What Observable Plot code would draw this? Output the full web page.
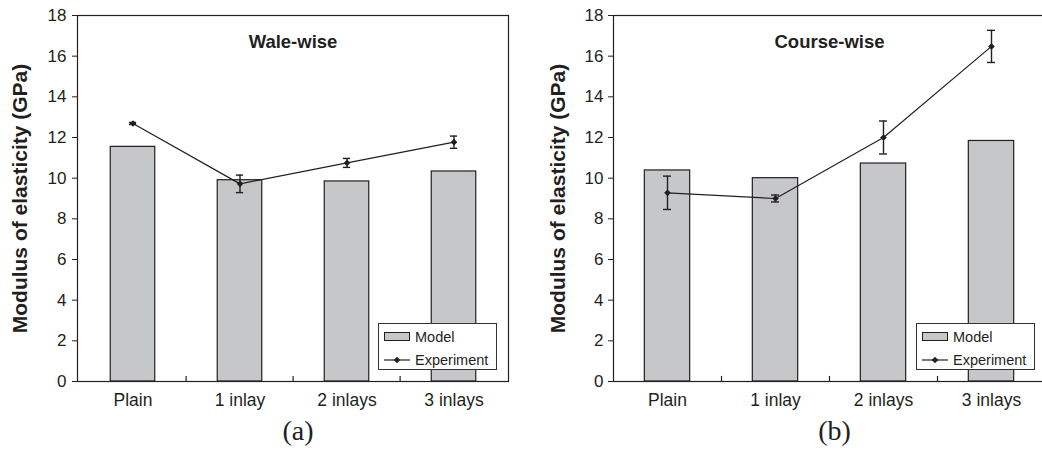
<!DOCTYPE html>
<html>
<head>
<meta charset="utf-8">
<script src="https://cdn.jsdelivr.net/npm/d3@7"></script>
<script src="https://cdn.jsdelivr.net/npm/@observablehq/plot@0.6"></script>
<style>
  html, body { margin: 0; padding: 0; background: #fff; overflow: hidden; }
  #wrap { position: relative; width: 1042px; height: 455px; overflow: hidden; display: flex; }
  .panel { position: relative; flex: none; }
  .legend { position: absolute; background: #fff; border: 1px solid #333; box-sizing: border-box;
            font-family: "Liberation Sans", Arial, sans-serif; font-size: 14.5px; color: #231f20; }
  .legend .row { position: absolute; left: 5px; display: flex; align-items: center; height: 18px; }
  .legend .row span { margin-left: 5px; }
</style>
</head>
<body>
<div id="wrap"></div>
<script>
// ---- data ----
const categories = ["Plain", "1 inlay", "2 inlays", "3 inlays"];
const yTicks = [0, 2, 4, 6, 8, 10, 12, 14, 16, 18];

const waleModel = [11.54, 9.90, 9.84, 10.33];
const waleExp   = [12.69, 9.72, 10.75, 11.77];
const waleErr   = [0.05, 0.43, 0.22, 0.30];

const courseModel = [10.38, 10.00, 10.72, 11.83];
const courseExp   = [9.28, 9.00, 12.00, 16.48];
const courseErr   = [0.82, 0.17, 0.81, 0.79];

const ink = "#231f20";
const barFill = "#c6c7c9";
const font = "'Liberation Sans', Arial, sans-serif";

const diamond = {
  draw(ctx, size) {
    const r = Math.sqrt(size) * 0.62625;
    ctx.moveTo(0, -r); ctx.lineTo(r, 0); ctx.lineTo(0, r); ctx.lineTo(-r, 0); ctx.closePath();
  }
};

function panel({title, letter, model, exp, err, width, marginLeft, marginRight, labelDx, tickPadding, legendRight, legendBottom}) {
  const rows = categories.map((c, i) => ({cat: c, model: model[i], exp: exp[i], lo: exp[i] - err[i], hi: exp[i] + err[i]}));
  const height = 455, marginTop = 15, marginBottom = 74;
  const bw = (width - marginLeft - marginRight) / categories.length;
  const plot = Plot.plot({
    width, height, marginLeft, marginRight, marginTop, marginBottom,
    style: {fontFamily: font, color: ink, background: "transparent", overflow: "visible"},
    x: {domain: categories, padding: 0, axis: null},
    y: {domain: [0, 18], axis: null},
    marks: [
      Plot.barY(rows, {x: "cat", y: "model", fill: barFill, stroke: ink, strokeWidth: 1.2, insetLeft: bw * 0.29, insetRight: bw * 0.29}),
      Plot.frame({stroke: ink, strokeWidth: 1.2}),
      Plot.axisY({ticks: yTicks, tickSize: 5, tickPadding, fontSize: 17, label: null, stroke: ink, fill: ink}),
      Plot.axisX({tickSize: 0, tickPadding: 12, fontSize: 17.5, label: null, fill: ink}),
      Plot.ruleX(categories.slice(1), {x: d => d, y1: 0, y2: 0.25, dx: -bw / 2, stroke: ink, strokeWidth: 1.2}),
      Plot.line(rows, {x: "cat", y: "exp", stroke: ink, strokeWidth: 1.2}),
      Plot.ruleX(rows, {x: "cat", y1: "lo", y2: "hi", stroke: ink, strokeWidth: 1.4}),
      Plot.tickY(rows, {x: "cat", y: "lo", stroke: ink, strokeWidth: 1.4, insetLeft: bw / 2 - 4, insetRight: bw / 2 - 4}),
      Plot.tickY(rows, {x: "cat", y: "hi", stroke: ink, strokeWidth: 1.4, insetLeft: bw / 2 - 4, insetRight: bw / 2 - 4}),
      Plot.dot(rows, {x: "cat", y: "exp", symbol: diamond, r: 3, fill: ink, stroke: "none"}),
      Plot.text([title], {frameAnchor: "top", dy: 19, fontSize: 18.5, fontWeight: "bold", fill: ink}),
      Plot.text(["Modulus of elasticity (GPa)"], {frameAnchor: "left", textAnchor: "middle", dx: labelDx, rotate: -90, fontSize: 21, fontWeight: "bold", fill: ink}),
      Plot.text([letter], {frameAnchor: "bottom", dy: 58, dx: 5, fontSize: 28, fontFamily: "'Liberation Serif', 'Times New Roman', serif", fill: ink})
    ]
  });
  const div = document.createElement("div");
  div.className = "panel";
  div.style.width = width + "px";
  div.style.height = height + "px";
  div.appendChild(plot);
  const lg = document.createElement("div");
  lg.className = "legend";
  lg.style.width = "119px";
  lg.style.height = "47px";
  lg.style.left = (width - marginRight - legendRight - 119) + "px";
  lg.style.top = (height - marginBottom - legendBottom - 47) + "px";
  lg.innerHTML = `
    <div class="row" style="top:4px"><svg width="26" height="10"><rect x="0.5" y="0.5" width="25" height="8" fill="${barFill}" stroke="${ink}" stroke-width="1"/></svg><span>Model</span></div>
    <div class="row" style="top:27px"><svg width="26" height="10"><line x1="0" x2="26" y1="5" y2="5" stroke="${ink}" stroke-width="1.2"/><path d="M13,1.7L16.3,5L13,8.3L9.7,5Z" fill="${ink}"/></svg><span>Experiment</span></div>`;
  div.appendChild(lg);
  return div;
}

const wrap = document.getElementById("wrap");
wrap.appendChild(panel({title: "Wale-wise", letter: "(a)", model: waleModel, exp: waleExp, err: waleErr,
  width: 521, marginLeft: 77, marginRight: 13, labelDx: -57, tickPadding: 6, legendRight: 11, legendBottom: 11}));
wrap.appendChild(panel({title: "Course-wise", letter: "(b)", model: courseModel, exp: courseExp, err: courseErr,
  width: 526, marginLeft: 92, marginRight: 2, labelDx: -55, tickPadding: 5, legendRight: 10, legendBottom: 11}));
</script>
</body>
</html>
